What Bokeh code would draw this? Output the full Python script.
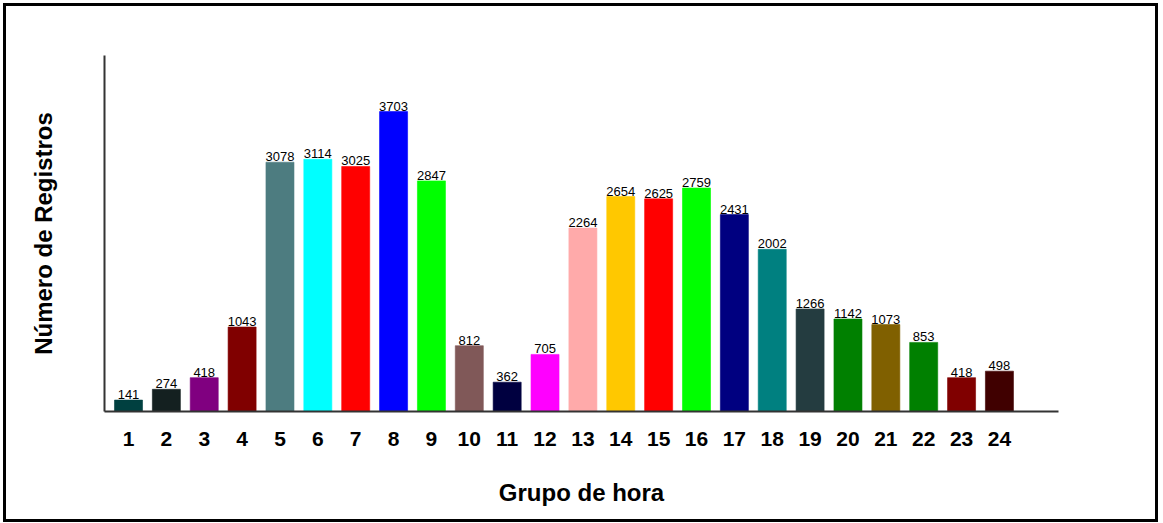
from bokeh.plotting import figure
from bokeh.models import Range1d, FixedTicker, ColumnDataSource
from bokeh.embed import file_html
from bokeh.resources import INLINE
from bokeh.core.properties import value

hours = list(range(1, 25))
tick_labels = [str(h) for h in hours]
counts = [141, 274, 418, 1043, 3078, 3114, 3025, 3703, 2847, 812, 362, 705,
          2264, 2654, 2625, 2759, 2431, 2002, 1266, 1142, 1073, 853, 418, 498]
colors = ["#004040", "#142020", "#800080", "#800000", "#4d7c80", "#00ffff",
          "#ff0000", "#0000ff", "#00ff00", "#805858", "#000040", "#ff00ff",
          "#ffaaaa", "#ffc800", "#ff0000", "#00ff00", "#000080", "#008080",
          "#243c40", "#008000", "#806000", "#008000", "#800000", "#400000"]

src = ColumnDataSource(dict(x=hours, y=counts, c=colors,
                            t=[str(v) for v in counts]))

FONT = "Liberation Sans"

p = figure(frame_width=954, frame_height=356,
           min_border_left=98, min_border_right=97,
           min_border_top=49, min_border_bottom=108,
           x_range=Range1d(0.366, 25.56), y_range=Range1d(0, 4395),
           output_backend="svg", toolbar_location=None,
           background_fill_color="white", border_fill_color="white")
p.styles = {"border": "3px solid black", "margin": "3px 0 0 3px"}
p.outline_line_color = None
p.xgrid.visible = False
p.ygrid.visible = False

p.vbar(x="x", top="y", width=0.74, fill_color="c", line_color="c",
       line_alpha=0.6, source=src)
p.text(x="x", y="y", text="t", text_align="center", text_baseline="bottom",
       y_offset=-1, text_font=value(FONT), text_font_size="13px",
       text_color="#000000", source=src)

xa = p.xaxis[0]
xa.ticker = FixedTicker(ticks=hours)
xa.major_label_overrides = {h: l for h, l in zip(hours, tick_labels)}
xa.major_tick_line_color = None
xa.minor_tick_line_color = None
xa.axis_line_color = "#333333"
xa.axis_line_width = 2
xa.major_label_text_font = FONT
xa.major_label_text_font_style = "bold"
xa.major_label_text_font_size = "21px"
xa.major_label_text_color = "#000000"
xa.major_label_standoff = 14
xa.axis_label = "Grupo de hora"
xa.axis_label_text_font = FONT
xa.axis_label_text_font_style = "bold"
xa.axis_label_text_font_size = "24px"
xa.axis_label_text_color = "#000000"
xa.axis_label_standoff = 30

ya = p.yaxis[0]
ya.ticker = FixedTicker(ticks=[])
ya.major_tick_line_color = None
ya.minor_tick_line_color = None
ya.axis_line_color = "#333333"
ya.axis_line_width = 2
ya.axis_label = "Número de Registros"
ya.axis_label_text_font = FONT
ya.axis_label_text_font_style = "bold"
ya.axis_label_text_font_size = "24px"
ya.axis_label_text_color = "#000000"
ya.axis_label_standoff = 48

open("out.html", "w").write(file_html(p, INLINE))
